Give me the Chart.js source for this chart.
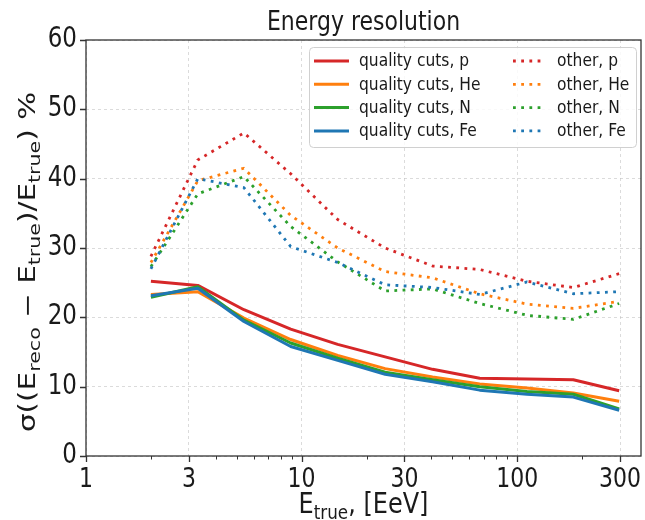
<!DOCTYPE html>
<html>
<head>
<meta charset="utf-8">
<script src="https://cdn.jsdelivr.net/npm/chart.js@4.4.1/dist/chart.umd.min.js"></script>
<style>
  html, body { margin: 0; padding: 0; background: #fff; }
  #chart { display: block; }
</style>
</head>
<body>
<canvas id="chart" width="645" height="520"></canvas>
<script>
/* Energy resolution vs true energy, per primary and selection */

const energies = [2, 3.3, 5.4, 8.9, 14.7, 24.4, 40.5, 67, 111, 182, 297];

const qcP  = [25.2, 24.6, 21.1, 18.3, 16.1, 14.3, 12.5, 11.2, 11.1, 11.0, 9.4];
const qcHe = [23.3, 23.7, 19.9, 16.8, 14.5, 12.6, 11.4, 10.4, 9.8, 9.1, 7.9];
const qcN  = [22.9, 24.4, 19.6, 16.3, 14.1, 12.1, 11.0, 10.0, 9.3, 8.9, 6.8];
const qcFe = [23.1, 24.2, 19.4, 15.8, 13.8, 11.8, 10.7, 9.5, 8.9, 8.5, 6.6];

const otherP  = [28.8, 42.7, 46.6, 40.7, 34.1, 30.0, 27.4, 26.9, 25.2, 24.3, 26.3];
const otherHe = [27.9, 39.7, 41.5, 34.7, 30.0, 26.6, 25.7, 23.4, 21.9, 21.3, 22.3];
const otherN  = [27.3, 37.8, 40.3, 33.1, 28.0, 23.8, 24.1, 22.0, 20.3, 19.7, 22.0];
const otherFe = [27.0, 40.0, 38.7, 30.2, 27.9, 24.7, 24.3, 23.3, 25.1, 23.4, 23.7];

const xTicks = [1, 3, 10, 30, 100, 300];
const xMinorTicks = [2, 4, 5, 6, 7, 8, 9, 20, 40, 50, 60, 70, 80, 90, 200];
const yTicks = [0, 10, 20, 30, 40, 50, 60];

const C = {
  red:    '#d62728',
  orange: '#ff7f0e',
  green:  '#2ca02c',
  blue:   '#1f77b4',
};

const FONT = "'DejaVu Sans', sans-serif";
const INK = '#1a1a1a';
const FRAME = '#333333';
const SY = 1.2;   // glyphs are drawn a bit taller than wide

function series(label, values, color, dotted, i) {
  return {
    label,
    data: energies.map((e, k) => ({ x: e, y: values[k] })),
    borderColor: color,
    backgroundColor: color,
    borderWidth: dotted ? 2.8 : 3,
    borderDash: dotted ? [2.8, 5.4] : [],
    borderCapStyle: 'butt',
    borderJoinStyle: 'round',
    pointRadius: 0,
    tension: 0,
    fill: false,
    order: 20 - i,
  };
}

// plain text, stretched vertically around its anchor
function text(ctx, str, x, y, size, align, base, sy = SY) {
  ctx.save();
  ctx.translate(x, y);
  ctx.scale(1, sy);
  ctx.font = `${size}px ${FONT}`;
  ctx.textAlign = align;
  ctx.textBaseline = base;
  ctx.fillText(str, 0, 0);
  ctx.restore();
}

// label with subscript runs: parts = [[text, isSub], ...], centred on 0
function richWidth(ctx, parts, size) {
  let w = 0;
  parts.forEach(([t, sub]) => {
    ctx.font = `${sub ? size * 0.7 : size}px ${FONT}`;
    w += ctx.measureText(t).width;
  });
  return w;
}

function drawRich(ctx, parts, size) {
  let x = -richWidth(ctx, parts, size) / 2;
  ctx.textAlign = 'left';
  ctx.textBaseline = 'alphabetic';
  parts.forEach(([t, sub]) => {
    ctx.font = `${sub ? size * 0.7 : size}px ${FONT}`;
    ctx.fillText(t, x, sub ? size * 0.22 : 0);
    x += ctx.measureText(t).width;
  });
}

const decorPlugin = {
  id: 'decor',
  afterDatasetsDraw(chart) {
    const { ctx, chartArea: a, scales } = chart;
    ctx.save();

    // frame
    ctx.strokeStyle = FRAME;
    ctx.lineWidth = 1.3;
    ctx.strokeRect(a.left, a.top, a.right - a.left, a.bottom - a.top);

    // tick marks
    ctx.beginPath();
    xTicks.forEach(v => {
      const px = Math.round(scales.x.getPixelForValue(v)) + 0.5;
      ctx.moveTo(px, a.bottom); ctx.lineTo(px, a.bottom + 6);
    });
    yTicks.forEach(v => {
      const py = Math.round(scales.y.getPixelForValue(v)) + 0.5;
      ctx.moveTo(a.left, py); ctx.lineTo(a.left - 6, py);
    });
    ctx.stroke();
    ctx.lineWidth = 1;
    ctx.beginPath();
    xMinorTicks.forEach(v => {
      const px = Math.round(scales.x.getPixelForValue(v)) + 0.5;
      ctx.moveTo(px, a.bottom); ctx.lineTo(px, a.bottom + 3.5);
    });
    ctx.stroke();

    // tick labels
    ctx.fillStyle = INK;
    xTicks.forEach(v => {
      text(ctx, String(v), scales.x.getPixelForValue(v), 487, 22, 'center', 'alphabetic');
    });
    yTicks.forEach(v => {
      text(ctx, String(v), a.left - 9, scales.y.getPixelForValue(v), 23, 'right', 'middle');
    });

    // title
    text(ctx, 'Energy resolution', (a.left + a.right) / 2, 30, 22, 'center', 'alphabetic');

    // axis titles
    ctx.save();
    ctx.translate((a.left + a.right) / 2, 513);
    ctx.scale(1, SY);
    drawRich(ctx, [['E', false], ['true', true], [', [EeV]', false]], 24);
    ctx.restore();

    ctx.save();
    ctx.translate(35, (a.top + a.bottom) / 2 + 14);
    ctx.scale(1, 1.28);
    ctx.rotate(-Math.PI / 2);
    drawRich(ctx, [
      ['σ((E', false], ['reco', true], [' − E', false], ['true', true],
      [')/E', false], ['true', true], [') %', false],
    ], 23);
    ctx.restore();

    // legend, two columns
    const box = { x: a.right - 332, y: a.top + 7, w: 327, h: 100 };
    ctx.beginPath();
    ctx.roundRect(box.x + 0.5, box.y + 0.5, box.w, box.h, 4);
    ctx.fillStyle = 'rgba(255,255,255,0.85)';
    ctx.fill();
    ctx.strokeStyle = '#d0d0d0';
    ctx.lineWidth = 1;
    ctx.stroke();

    const cols = [{ lx: box.x + 5, lw: 35, tx: box.x + 50 }, { lx: box.x + 204, lw: 30, tx: box.x + 248 }];
    chart.data.datasets.forEach((ds, i) => {
      const col = cols[Math.floor(i / 4)];
      const y = box.y + 14 + (i % 4) * 23.3;
      ctx.beginPath();
      ctx.strokeStyle = ds.borderColor;
      ctx.lineWidth = ds.borderWidth;
      ctx.lineCap = 'butt';
      ctx.setLineDash(ds.borderDash);
      ctx.moveTo(col.lx, y); ctx.lineTo(col.lx + col.lw, y);
      ctx.stroke();
      ctx.setLineDash([]);
      ctx.fillStyle = INK;
      text(ctx, ds.label, col.tx, y + 1, 15.5, 'left', 'middle', 1.1);
    });

    ctx.restore();
  },
};

const gridStyle = {
  color: 'rgba(190,190,190,0.55)',
  lineWidth: 1,
  drawTicks: false,
};

new Chart(document.getElementById('chart'), {
  type: 'line',
  data: {
    datasets: [
      series('quality cuts, p',  qcP,  C.red,    false, 0),
      series('quality cuts, He', qcHe, C.orange, false, 1),
      series('quality cuts, N',  qcN,  C.green,  false, 2),
      series('quality cuts, Fe', qcFe, C.blue,   false, 3),
      series('other, p',  otherP,  C.red,    true, 4),
      series('other, He', otherHe, C.orange, true, 5),
      series('other, N',  otherN,  C.green,  true, 6),
      series('other, Fe', otherFe, C.blue,   true, 7),
    ],
  },
  options: {
    responsive: false,
    animation: false,
    devicePixelRatio: 1,
    layout: { padding: { top: 40, right: 4, left: 0, bottom: 0 } },
    plugins: { legend: { display: false }, tooltip: { enabled: false }, title: { display: false } },
    scales: {
      x: {
        type: 'logarithmic',
        min: 1, max: 375,
        afterBuildTicks: s => { s.ticks = xTicks.map(v => ({ value: v })); },
        afterFit: s => { s.height = 64; },
        grid: gridStyle,
        border: { display: false, dash: [3, 3] },
        ticks: { display: false, autoSkip: false },
      },
      y: {
        min: 0, max: 60,
        afterBuildTicks: s => { s.ticks = yTicks.map(v => ({ value: v })); },
        afterFit: s => { s.width = 86; },
        grid: gridStyle,
        border: { display: false, dash: [3, 3] },
        ticks: { display: false },
      },
    },
  },
  plugins: [decorPlugin],
});
</script>
</body>
</html>
